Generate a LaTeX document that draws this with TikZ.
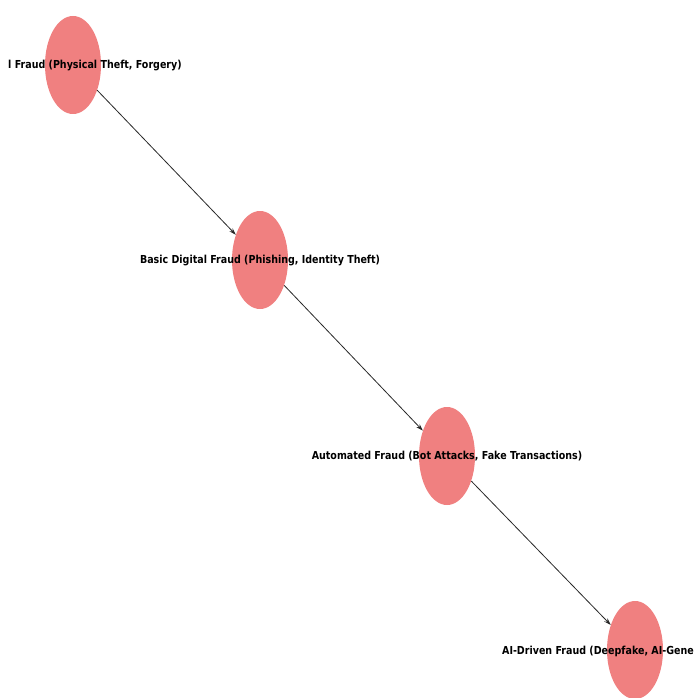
\documentclass[tikz,border=0pt]{standalone}
\usepackage{fontspec}
\setmainfont{DejaVu Sans}
\usetikzlibrary{shapes.geometric,arrows.meta}
\definecolor{nodefill}{RGB}{240,128,128}
\definecolor{edgecol}{RGB}{40,40,40}
\tikzset{
  fraudnode/.style={ellipse, fill=nodefill, draw=none, minimum width=56pt, minimum height=98pt, inner sep=0pt},
  fraudlabel/.style={font=\fontsize{11}{13}\selectfont\bfseries, inner sep=0pt, text=black},
  flow/.style={draw=edgecol, line width=0.8pt, -{Stealth[length=7pt,width=4.5pt]}}
}
\newcommand{\lbl}[1]{\scalebox{0.865}[1]{#1}}
\begin{document}
\begin{tikzpicture}[x=1pt,y=-1pt]
\useasboundingbox (0,0) rectangle (695,698);
\clip (0,0) rectangle (695,698);
\fill[white] (0,0) rectangle (695,698);
\node[fraudnode] (n1) at (73,65) {};
\node[fraudnode] (n2) at (260,260) {};
\node[fraudnode] (n3) at (447,456) {};
\node[fraudnode] (n4) at (635,650) {};
\draw[flow] (n1) -- (n2);
\draw[flow] (n2) -- (n3);
\draw[flow] (n3) -- (n4);
\node[fraudlabel, anchor=west] (t1) at (8,66) {\lbl{l Fraud (Physical Theft, Forgery)}};
\node[fraudlabel] (t2) at (260,261) {\lbl{Basic Digital Fraud (Phishing, Identity Theft)}};
\node[fraudlabel] (t3) at (447,456) {\lbl{Automated Fraud (Bot Attacks, Fake Transactions)}};
\node[fraudlabel, anchor=east] (t4) at (694,651) {\lbl{AI-Driven Fraud (Deepfake, AI-Gene}};
\end{tikzpicture}
\end{document}
